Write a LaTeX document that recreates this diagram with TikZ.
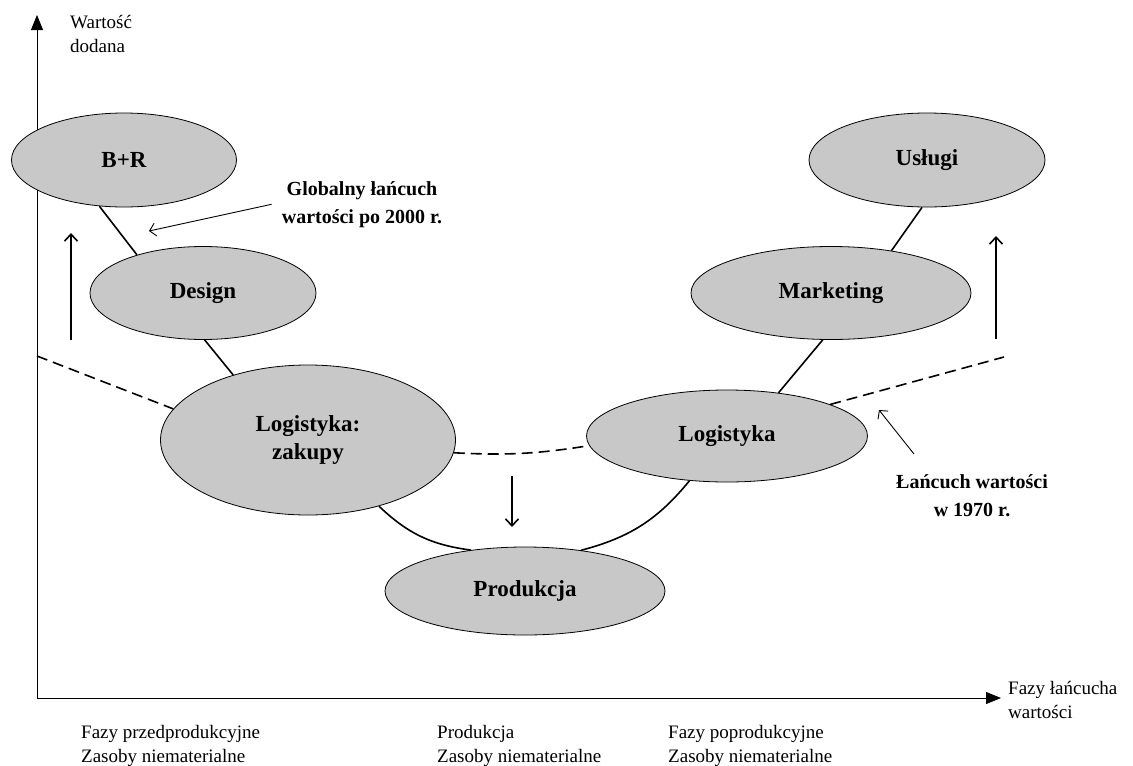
\documentclass[tikz,border=0pt]{standalone}
\usepackage{fontspec}
\setmainfont{Liberation Serif}
\usetikzlibrary{shapes.geometric}
\usetikzlibrary{arrows.meta}
\definecolor{mygray}{RGB}{200,200,200}

\begin{document}
\begin{tikzpicture}[x=1pt,y=-1pt,
	phase/.style={ellipse, draw=black, line width=0.8pt, fill=mygray, inner sep=0pt, align=center, font=\fontsize{23}{28}\selectfont\bfseries},
	chain/.style={line width=1.6pt},
	oldchain/.style={line width=1.6pt, dash pattern=on 11pt off 6pt},
	trend/.style={line width=1.6pt, -{Straight Barb[length=7pt,width=13pt,line width=1.6pt]}},
	pointer/.style={line width=0.9pt, -{Straight Barb[length=6pt,width=13pt,line width=0.9pt]}},
	axis/.style={line width=0.8pt, -{Triangle[length=15pt,width=12pt]}},
	note/.style={align=center, inner sep=0pt, font=\fontsize{20}{28}\selectfont\bfseries},
	plain/.style={align=left, inner sep=0pt, font=\fontsize{19}{24}\selectfont}
	]
		\useasboundingbox (0,0) rectangle (1133,766);
		
		% Axes
		\coordinate (origin) at (37,698);
		\coordinate (ytop) at (37,15);
		\coordinate (xend) at (1001,698);
		\draw[axis] (origin) -- (ytop);
		\draw[axis] (origin) -- (xend);
		
		% Phases of the chain
		\node[phase, minimum width=225pt, minimum height=94pt] (bpr) at (124,160) {B+R};
		\node[phase, minimum width=226pt, minimum height=93pt] (design) at (203,293) {Design};
		\node[phase, minimum width=295pt, minimum height=150pt] (zak) at (308,440) {Logistyka:\\zakupy};
		\node[phase, minimum width=280pt, minimum height=88pt] (prod) at (525,591) {Produkcja};
		\node[phase, minimum width=281pt, minimum height=92pt] (logr) at (727,436) {Logistyka};
		\node[phase, minimum width=280pt, minimum height=93pt] (mkt) at (831,293) {Marketing};
		\node[phase, minimum width=236pt, minimum height=94pt] (usl) at (927,160) {Usługi};
		
		% Chain after 2000
		\draw[chain] (bpr.242) -- (design.150);
		\draw[chain] (design.272) -- (zak.139);
		\draw[chain] (zak.317) to[bend right=18] (prod.143);
		\draw[chain] (prod.36) to[bend right=18] (logr.230);
		\draw[chain] (logr.40) -- (mkt.260);
		\draw[chain] (mkt.35) -- (usl.264);
		
		% Chain in 1970
		\coordinate (oldL) at (37,356);
		\coordinate (oldR) at (1004,357);
		\draw[oldchain] (oldL) -- (zak.167);
		\draw[oldchain] (zak.355) to[bend right=6] (logr.184);
		\draw[oldchain] (logr.17) -- (oldR);
		
		% Trends
		\coordinate (upLa) at (71,340);
		\coordinate (upLb) at (71,233);
		\coordinate (upRa) at (996,339);
		\coordinate (upRb) at (996,236);
		\coordinate (downa) at (512,476);
		\coordinate (downb) at (512,527);
		\draw[trend] (upLa) -- (upLb);
		\draw[trend] (upRa) -- (upRb);
		\draw[trend] (downa) -- (downb);
		
		% Notes
		\node[note, anchor=north] (glob) at (362,181) {Globalny łańcuch\\wartości po 2000 r.};
		\node[note, anchor=north] (old) at (972,474) {Łańcuch wartości\\w 1970 r.};
		\coordinate (globtip) at (149,231);
		\coordinate (oldtail) at (914,454);
		\coordinate (oldtip) at (879,410);
		\draw[pointer] ([xshift=-10pt]glob.west) -- (globtip);
		\draw[pointer] (oldtail) -- (oldtip);
		
		% Axis labels
		\node[plain, anchor=north west] (yname) at (70,15) {Wartość\\dodana};
		\node[plain, anchor=north west] (xname) at (1008,681) {Fazy łańcucha\\wartości};
		\node[plain, anchor=north west] (pre) at (81,725) {Fazy przedprodukcyjne\\Zasoby niematerialne};
		\node[plain, anchor=north west] (mid) at (437,725) {Produkcja\\Zasoby niematerialne};
		\node[plain, anchor=north west] (post) at (668,725) {Fazy poprodukcyjne\\Zasoby niematerialne};
	\end{tikzpicture}
\end{document}
